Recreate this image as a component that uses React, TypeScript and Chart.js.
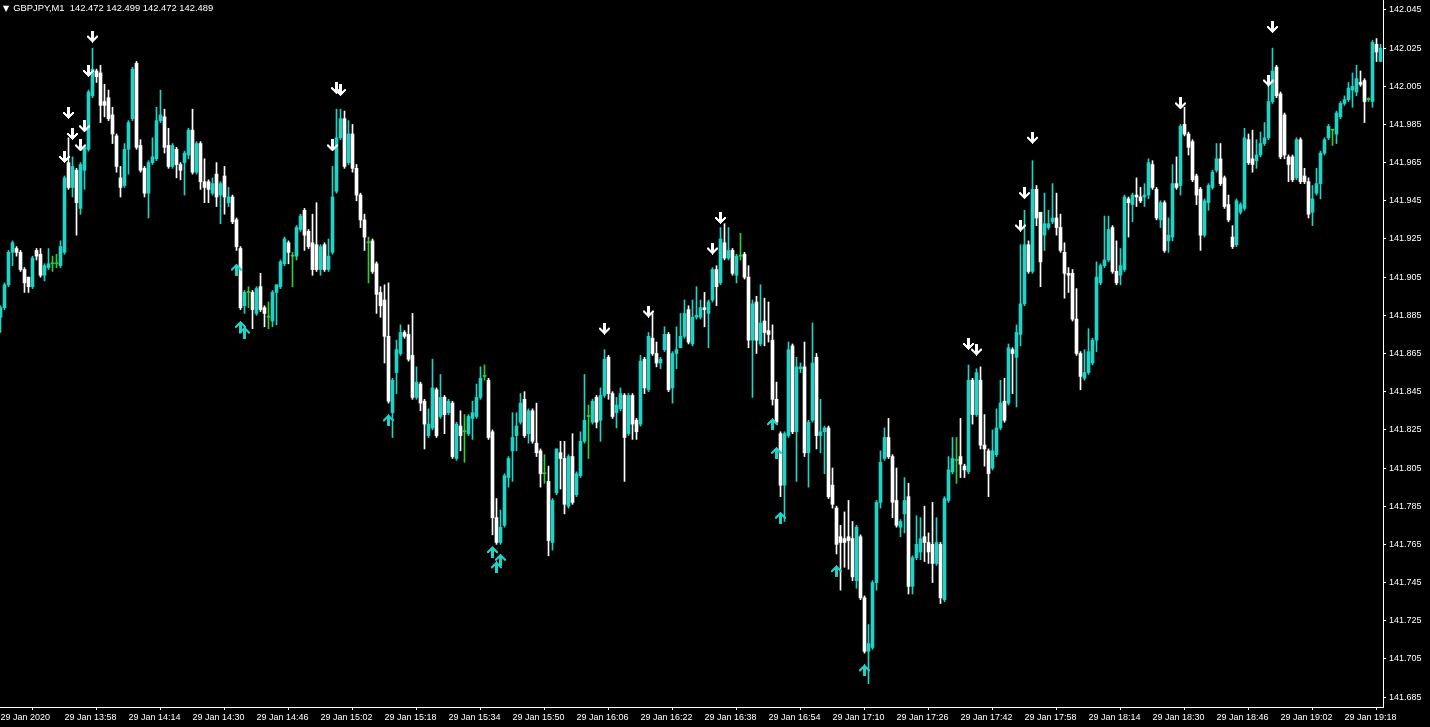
import React, { useEffect, useRef } from 'react';
import { Chart, registerables } from 'chart.js';

Chart.register(...registerables);

const headerText = 'GBPJPY,M1  142.472 142.499 142.472 142.489';

const opens = [
  141.884, 141.889, 141.901, 141.918, 141.920, 141.918, 141.909, 141.905, 141.900, 141.919,
  141.917, 141.906, 141.910, 141.912, 141.912, 141.911, 141.918, 141.965, 141.952, 141.961,
  141.941, 141.961, 141.972, 142.000, 142.013, 142.012, 141.997, 141.999, 141.990, 141.979,
  141.957, 141.953, 141.972, 141.988, 142.017, 141.974, 141.962, 141.949, 141.965, 141.967,
  141.987, 141.989, 141.974, 141.963, 141.972, 141.964, 141.965, 141.969, 141.982, 141.960,
  141.975, 141.955, 141.955, 141.949, 141.959, 141.948, 141.958, 141.944, 141.947, 141.935,
  141.920, 141.890, 141.897, 141.897, 141.886, 141.900, 141.889, 141.884, 141.882, 141.897,
  141.900, 141.912, 141.923, 141.916, 141.916, 141.930, 141.940, 141.929, 141.923, 141.922,
  141.909, 141.922, 141.909, 141.918, 141.950, 141.978, 141.988, 141.965, 141.980, 141.962,
  141.948, 141.935, 141.923, 141.924, 141.912, 141.897, 141.893, 141.874, 141.834, 141.855,
  141.865, 141.876, 141.875, 141.864, 141.842, 141.849, 141.840, 141.822, 141.826, 141.846,
  141.832, 141.842, 141.834, 141.839, 141.810, 141.827, 141.824, 141.823, 141.831, 141.832,
  141.842, 141.853, 141.851, 141.824, 141.779, 141.766, 141.775, 141.800, 141.814, 141.822,
  141.829, 141.841, 141.823, 141.835, 141.818, 141.814, 141.802, 141.798, 141.766, 141.792,
  141.813, 141.810, 141.785, 141.811, 141.791, 141.801, 141.819, 141.832, 141.829, 141.842,
  141.830, 141.843, 141.863, 141.844, 141.834, 141.836, 141.843, 141.823, 141.843, 141.830,
  141.828, 141.862, 141.846, 141.873, 141.865, 141.860, 141.867, 141.875, 141.847, 141.865,
  141.868, 141.874, 141.888, 141.870, 141.884, 141.884, 141.889, 141.886, 141.893, 141.909,
  141.902, 141.923, 141.915, 141.919, 141.906, 141.916, 141.917, 141.905, 141.872, 141.892,
  141.870, 141.882, 141.877, 141.872, 141.841, 141.823, 141.796, 141.822, 141.869, 141.824,
  141.857, 141.858, 141.813, 141.830, 141.863, 141.822, 141.824, 141.826, 141.796, 141.784,
  141.769, 141.768, 141.769, 141.768, 141.746, 141.769, 141.737, 141.709, 141.711, 141.745,
  141.787, 141.810, 141.821, 141.811, 141.788, 141.774, 141.781, 141.790, 141.743, 141.758,
  141.761, 141.769, 141.766, 141.765, 141.755, 141.765, 141.736, 141.788, 141.803, 141.809,
  141.811, 141.806, 141.803, 141.851, 141.833, 141.851, 141.817, 141.814, 141.805, 141.812,
  141.826, 141.840, 141.839, 141.867, 141.863, 141.875, 141.891, 141.922, 141.908, 141.951,
  141.939, 141.927, 141.931, 141.934, 141.936, 141.931, 141.918, 141.907, 141.907, 141.883,
  141.865, 141.852, 141.855, 141.860, 141.872, 141.902, 141.911, 141.914, 141.931, 141.908,
  141.906, 141.909, 141.946, 141.943, 141.948, 141.947, 141.947, 141.948, 141.964, 141.951,
  141.935, 141.944, 141.924, 141.926, 141.954, 141.953, 141.985, 141.980, 141.976, 141.958,
  141.951, 141.927, 141.944, 141.952, 141.961, 141.967, 141.957, 141.943, 141.926, 141.922,
  141.939, 141.941, 141.977, 141.967, 141.966, 141.969, 141.975, 141.978, 141.997, 142.015,
  142.001, 141.990, 141.968, 141.968, 141.957, 141.977, 141.958, 141.955, 141.939, 141.949,
  141.954, 141.970, 141.978, 141.982, 141.980, 141.989, 141.996, 141.998, 142.003, 142.002,
  142.007, 142.008, 141.998, 141.997, 142.027, 142.018,
];

const highs = [
  141.890, 141.902, 141.919, 141.924, 141.921, 141.919, 141.910, 141.905, 141.916, 141.920,
  141.920, 141.912, 141.920, 141.916, 141.917, 141.924, 141.958, 141.978, 141.968, 141.962,
  141.965, 141.974, 142.003, 142.025, 142.014, 142.016, 142.006, 142.003, 141.994, 141.980,
  141.963, 141.975, 141.987, 142.015, 142.018, 141.977, 141.963, 141.966, 141.978, 141.994,
  142.003, 141.993, 141.983, 141.975, 141.973, 141.965, 141.971, 141.983, 141.993, 141.976,
  141.976, 141.967, 141.956, 141.957, 141.965, 141.955, 141.963, 141.952, 141.948, 141.936,
  141.921, 141.898, 141.900, 141.898, 141.900, 141.907, 141.890, 141.892, 141.898, 141.901,
  141.914, 141.926, 141.924, 141.918, 141.932, 141.938, 141.941, 141.930, 141.938, 141.944,
  141.922, 141.923, 141.925, 141.963, 141.993, 141.993, 141.992, 141.987, 141.985, 141.964,
  141.949, 141.938, 141.926, 141.925, 141.913, 141.900, 141.901, 141.902, 141.852, 141.872,
  141.880, 141.877, 141.880, 141.886, 141.858, 141.850, 141.841, 141.836, 141.862, 141.847,
  141.854, 141.843, 141.841, 141.840, 141.829, 141.835, 141.833, 141.833, 141.840, 141.849,
  141.858, 141.859, 141.852, 141.825, 141.789, 141.783, 141.802, 141.811, 141.834, 141.834,
  141.844, 141.845, 141.836, 141.836, 141.839, 141.815, 141.812, 141.806, 141.789, 141.815,
  141.819, 141.819, 141.812, 141.823, 141.803, 141.824, 141.854, 141.838, 141.841, 141.843,
  141.847, 141.867, 141.864, 141.845, 141.842, 141.847, 141.844, 141.844, 141.844, 141.831,
  141.864, 141.863, 141.876, 141.886, 141.871, 141.863, 141.879, 141.876, 141.866, 141.879,
  141.886, 141.893, 141.890, 141.893, 141.900, 141.893, 141.897, 141.893, 141.910, 141.911,
  141.931, 141.933, 141.931, 141.920, 141.917, 141.928, 141.918, 141.911, 141.893, 141.895,
  141.901, 141.894, 141.892, 141.880, 141.850, 141.824, 141.824, 141.871, 141.870, 141.863,
  141.860, 141.871, 141.830, 141.881, 141.865, 141.841, 141.827, 141.827, 141.805, 141.785,
  141.775, 141.782, 141.788, 141.777, 141.775, 141.770, 141.738, 141.723, 141.746, 141.788,
  141.814, 141.826, 141.831, 141.812, 141.805, 141.778, 141.800, 141.797, 141.759, 141.780,
  141.779, 141.785, 141.771, 141.787, 141.779, 141.766, 141.790, 141.811, 141.821, 141.821,
  141.831, 141.807, 141.859, 141.852, 141.857, 141.858, 141.833, 141.815, 141.825, 141.836,
  141.851, 141.852, 141.870, 141.868, 141.880, 141.922, 141.940, 141.924, 141.966, 141.953,
  141.939, 141.949, 141.940, 141.954, 141.949, 141.938, 141.923, 141.910, 141.909, 141.899,
  141.866, 141.867, 141.878, 141.873, 141.913, 141.912, 141.937, 141.937, 141.932, 141.924,
  141.920, 141.948, 141.947, 141.949, 141.957, 141.952, 141.954, 141.967, 141.966, 141.952,
  141.945, 141.945, 141.936, 141.964, 141.968, 141.985, 141.994, 141.981, 141.977, 141.959,
  141.952, 141.946, 141.954, 141.961, 141.975, 141.975, 141.958, 141.948, 141.932, 141.946,
  141.944, 141.983, 141.980, 141.982, 141.977, 141.981, 141.986, 142.008, 142.025, 142.016,
  142.002, 141.991, 141.969, 141.969, 141.978, 141.978, 141.962, 141.957, 141.953, 141.962,
  141.971, 141.978, 141.985, 141.982, 141.992, 141.997, 142.000, 142.007, 142.012, 142.016,
  142.013, 142.009, 141.999, 142.029, 142.030, 142.027,
];

const lows = [
  141.876, 141.888, 141.900, 141.911, 141.916, 141.908, 141.897, 141.897, 141.899, 141.914,
  141.905, 141.903, 141.909, 141.908, 141.910, 141.910, 141.917, 141.951, 141.947, 141.927,
  141.938, 141.951, 141.971, 141.999, 142.007, 141.986, 141.989, 141.987, 141.975, 141.960,
  141.947, 141.952, 141.959, 141.987, 141.972, 141.960, 141.947, 141.936, 141.964, 141.966,
  141.986, 141.970, 141.962, 141.962, 141.957, 141.956, 141.948, 141.967, 141.959, 141.959,
  141.951, 141.944, 141.944, 141.948, 141.942, 141.933, 141.938, 141.942, 141.933, 141.919,
  141.888, 141.886, 141.889, 141.878, 141.885, 141.887, 141.879, 141.878, 141.879, 141.880,
  141.899, 141.911, 141.912, 141.900, 141.914, 141.929, 141.919, 141.920, 141.906, 141.908,
  141.906, 141.908, 141.908, 141.917, 141.949, 141.977, 141.962, 141.964, 141.960, 141.945,
  141.931, 141.919, 141.902, 141.907, 141.886, 141.884, 141.860, 141.839, 141.821, 141.844,
  141.864, 141.873, 141.861, 141.841, 141.841, 141.835, 141.815, 141.821, 141.825, 141.821,
  141.831, 141.823, 141.833, 141.810, 141.809, 141.814, 141.808, 141.822, 141.820, 141.831,
  141.841, 141.851, 141.820, 141.770, 141.765, 141.765, 141.774, 141.795, 141.798, 141.814,
  141.828, 141.821, 141.818, 141.818, 141.811, 141.795, 141.797, 141.759, 141.762, 141.791,
  141.794, 141.781, 141.784, 141.786, 141.790, 141.800, 141.818, 141.810, 141.828, 141.826,
  141.819, 141.842, 141.841, 141.831, 141.826, 141.835, 141.798, 141.822, 141.820, 141.820,
  141.827, 141.844, 141.845, 141.864, 141.858, 141.857, 141.866, 141.845, 141.839, 141.857,
  141.868, 141.873, 141.870, 141.869, 141.883, 141.883, 141.879, 141.868, 141.892, 141.890,
  141.901, 141.914, 141.914, 141.906, 141.902, 141.914, 141.904, 141.868, 141.842, 141.865,
  141.869, 141.869, 141.871, 141.838, 141.828, 141.790, 141.777, 141.821, 141.823, 141.798,
  141.855, 141.811, 141.795, 141.829, 141.815, 141.813, 141.802, 141.789, 141.784, 141.760,
  141.741, 141.753, 141.752, 141.746, 141.742, 141.736, 141.708, 141.692, 141.710, 141.741,
  141.784, 141.809, 141.810, 141.779, 141.774, 141.769, 141.771, 141.739, 141.739, 141.757,
  141.757, 141.756, 141.755, 141.745, 141.754, 141.734, 141.735, 141.787, 141.802, 141.797,
  141.800, 141.800, 141.802, 141.828, 141.832, 141.815, 141.806, 141.790, 141.804, 141.811,
  141.825, 141.829, 141.838, 141.844, 141.837, 141.869, 141.890, 141.907, 141.907, 141.932,
  141.900, 141.919, 141.930, 141.933, 141.927, 141.918, 141.894, 141.897, 141.882, 141.864,
  141.846, 141.851, 141.854, 141.859, 141.866, 141.901, 141.910, 141.913, 141.907, 141.901,
  141.901, 141.908, 141.926, 141.934, 141.942, 141.944, 141.942, 141.946, 141.951, 141.935,
  141.931, 141.918, 141.918, 141.924, 141.951, 141.948, 141.979, 141.969, 141.955, 141.943,
  141.919, 141.926, 141.940, 141.951, 141.960, 141.953, 141.941, 141.934, 141.920, 141.921,
  141.938, 141.940, 141.964, 141.960, 141.962, 141.968, 141.974, 141.977, 141.996, 141.999,
  141.967, 141.967, 141.955, 141.955, 141.956, 141.954, 141.954, 141.936, 141.932, 141.948,
  141.946, 141.969, 141.977, 141.974, 141.975, 141.988, 141.995, 141.997, 141.994, 142.000,
  142.005, 141.986, 141.997, 141.994, 142.018, 142.018,
];

const closes = [
  141.889, 141.901, 141.918, 141.923, 141.918, 141.909, 141.902, 141.900, 141.915, 141.916,
  141.906, 141.911, 141.912, 141.912, 141.912, 141.921, 141.957, 141.952, 141.963, 141.944,
  141.964, 141.973, 142.002, 142.014, 142.010, 141.995, 141.995, 141.988, 141.980, 141.963,
  141.952, 141.972, 141.986, 142.014, 141.973, 141.961, 141.949, 141.965, 141.968, 141.987,
  141.990, 141.973, 141.963, 141.974, 141.964, 141.961, 141.970, 141.982, 141.960, 141.975,
  141.955, 141.952, 141.951, 141.954, 141.947, 141.954, 141.947, 141.947, 141.934, 141.921,
  141.889, 141.897, 141.897, 141.888, 141.899, 141.888, 141.886, 141.884, 141.897, 141.901,
  141.913, 141.925, 141.918, 141.916, 141.931, 141.937, 141.927, 141.921, 141.909, 141.909,
  141.921, 141.909, 141.916, 141.947, 141.978, 141.988, 141.963, 141.980, 141.962, 141.948,
  141.935, 141.926, 141.923, 141.908, 141.896, 141.890, 141.874, 141.840, 141.851, 141.867,
  141.876, 141.874, 141.862, 141.842, 141.850, 141.839, 141.828, 141.828, 141.847, 141.822,
  141.842, 141.833, 141.840, 141.811, 141.828, 141.822, 141.824, 141.832, 141.834, 141.842,
  141.852, 141.853, 141.821, 141.779, 141.766, 141.774, 141.801, 141.810, 141.821, 141.827,
  141.839, 141.822, 141.835, 141.819, 141.813, 141.802, 141.802, 141.767, 141.788, 141.815,
  141.810, 141.786, 141.811, 141.787, 141.802, 141.819, 141.830, 141.832, 141.840, 141.829,
  141.843, 141.862, 141.844, 141.832, 141.838, 141.844, 141.821, 141.843, 141.828, 141.824,
  141.861, 141.847, 141.874, 141.865, 141.860, 141.862, 141.875, 141.846, 141.865, 141.867,
  141.874, 141.886, 141.871, 141.884, 141.885, 141.889, 141.888, 141.892, 141.909, 141.900,
  141.925, 141.915, 141.919, 141.907, 141.916, 141.916, 141.905, 141.872, 141.891, 141.872,
  141.881, 141.876, 141.875, 141.841, 141.829, 141.796, 141.823, 141.867, 141.824, 141.858,
  141.858, 141.813, 141.829, 141.860, 141.822, 141.824, 141.826, 141.790, 141.786, 141.765,
  141.766, 141.766, 141.767, 141.748, 141.774, 141.737, 141.709, 141.713, 141.745, 141.787,
  141.808, 141.821, 141.811, 141.787, 141.775, 141.777, 141.788, 141.743, 141.758, 141.765,
  141.768, 141.766, 141.761, 141.755, 141.766, 141.737, 141.789, 141.804, 141.810, 141.809,
  141.807, 141.804, 141.851, 141.833, 141.855, 141.817, 141.815, 141.802, 141.814, 141.826,
  141.839, 141.830, 141.868, 141.865, 141.876, 141.891, 141.922, 141.908, 141.951, 141.936,
  141.913, 141.933, 141.933, 141.936, 141.931, 141.919, 141.907, 141.906, 141.883, 141.865,
  141.853, 141.855, 141.866, 141.872, 141.905, 141.911, 141.914, 141.930, 141.908, 141.902,
  141.911, 141.947, 141.944, 141.948, 141.947, 141.945, 141.948, 141.965, 141.952, 141.936,
  141.944, 141.919, 141.927, 141.954, 141.952, 141.984, 141.980, 141.973, 141.956, 141.948,
  141.927, 141.945, 141.953, 141.960, 141.967, 141.954, 141.942, 141.935, 141.921, 141.945,
  141.943, 141.978, 141.965, 141.964, 141.969, 141.975, 141.978, 141.997, 142.013, 142.000,
  141.968, 141.969, 141.964, 141.956, 141.977, 141.955, 141.955, 141.938, 141.946, 141.954,
  141.970, 141.977, 141.984, 141.982, 141.991, 141.996, 141.998, 142.004, 142.005, 142.009,
  142.006, 141.997, 141.998, 142.028, 142.023, 142.025,
];

// Time axis: one bar per minute, label every 16 bars
const xTickIndex = [0, 16, 32, 48, 64, 80, 96, 112, 128, 144, 160, 176, 192, 208, 224, 240, 256, 272, 288, 304, 320, 336];
const xTickLabels = [
  '29 Jan 2020', '29 Jan 13:58', '29 Jan 14:14', '29 Jan 14:30', '29 Jan 14:46', '29 Jan 15:02',
  '29 Jan 15:18', '29 Jan 15:34', '29 Jan 15:50', '29 Jan 16:06', '29 Jan 16:22', '29 Jan 16:38',
  '29 Jan 16:54', '29 Jan 17:10', '29 Jan 17:26', '29 Jan 17:42', '29 Jan 17:58', '29 Jan 18:14',
  '29 Jan 18:30', '29 Jan 18:46', '29 Jan 19:02', '29 Jan 19:18',
];
const yTicks = [
  142.045, 142.025, 142.005, 141.985, 141.965, 141.945, 141.925, 141.905, 141.885, 141.865,
  141.845, 141.825, 141.805, 141.785, 141.765, 141.745, 141.725, 141.705, 141.685,
];
const yMin = 141.6798;
const yMax = 142.0502;

// Signal arrows (bar index, price)
const sellSignalIdx = [16, 17, 18, 20, 21, 22, 23, 83, 84, 85, 151, 162, 178, 180, 242, 244, 255, 256, 258, 295, 317, 318];
const sellSignalPrice = [
  141.968, 141.991, 141.980, 141.974, 141.984, 142.013, 142.031, 141.974, 142.004, 142.003, 141.878,
  141.887, 141.920, 141.936, 141.870, 141.867, 141.932, 141.949, 141.978, 141.996, 142.008, 142.036,
];
const buySignalIdx = [59, 60, 61, 97, 123, 124, 125, 193, 194, 195, 209, 216];
const buySignalPrice = [
  141.909, 141.879, 141.876, 141.830, 141.761, 141.753, 141.757, 141.828, 141.813, 141.779, 141.751, 141.699,
];

const BULL = '#1fd3c6';
const BEAR = '#ffffff';
const DOJI = '#32cd32';
const AXIS = '#ffffff';
const FONT = { family: 'Liberation Sans', size: 9 };

const ARROW_DOWN = [
  '....###....',
  '....###....',
  '....###....',
  '....###....',
  '....###....',
  '##..###..##',
  '###.###.###',
  '.#########.',
  '..#######..',
  '...#####...',
  '....###....',
  '.....#.....',
];

function makeArrow(rows: string[], color: string) {
  const c = document.createElement('canvas');
  c.width = rows[0].length;
  c.height = rows.length;
  const g = c.getContext('2d')!;
  g.fillStyle = color;
  rows.forEach((r, y) => {
    for (let x = 0; x < r.length; x++) if (r[x] === '#') g.fillRect(x, y, 1, 1);
  });
  return c;
}

export default function App() {
  const ref = useRef<HTMLCanvasElement | null>(null);

  useEffect(() => {
    document.body.style.margin = '0';
    document.body.style.background = '#000';
    document.documentElement.style.background = '#000';
    const canvas = ref.current;
    if (!canvas) return;

    const colors = closes.map((c, i) => (c > opens[i] ? BULL : c < opens[i] ? BEAR : DOJI));
    const downImg = makeArrow(ARROW_DOWN, '#ffffff');
    const upImg = makeArrow([...ARROW_DOWN].reverse(), BULL);

    const chart = new Chart(canvas, {
      type: 'bar',
      data: {
        datasets: [
          {
            type: 'scatter',
            data: sellSignalIdx.map((x, k) => ({ x, y: sellSignalPrice[k] })),
            pointStyle: downImg as any,
            pointRadius: 6,
            clip: false,
            order: 0,
          } as any,
          {
            type: 'scatter',
            data: buySignalIdx.map((x, k) => ({ x, y: buySignalPrice[k] })),
            pointStyle: upImg as any,
            pointRadius: 6,
            clip: false,
            order: 0,
          } as any,
          {
            type: 'bar',
            data: opens.map((o, i) => ({ x: i, y: [o, closes[i]] })),
            backgroundColor: colors,
            borderWidth: 0,
            barThickness: 3,
            grouped: false,
            minBarLength: 1,
            order: 1,
          } as any,
          {
            type: 'bar',
            data: lows.map((l, i) => ({ x: i, y: [l, highs[i]] })),
            backgroundColor: colors,
            borderWidth: 0,
            barThickness: 1,
            grouped: false,
            order: 2,
          } as any,
        ],
      },
      options: {
        animation: false,
        responsive: true,
        maintainAspectRatio: false,
        devicePixelRatio: 1,
        events: [],
        layout: { padding: 0, autoPadding: false },
        plugins: { legend: { display: false }, tooltip: { enabled: false } },
        scales: {
          x: {
            type: 'linear',
            position: 'bottom',
            min: -0.125,
            max: 345.625,
            offset: false,
            grid: { display: true, drawOnChartArea: false, drawTicks: true, tickLength: 3, color: AXIS },
            border: { display: true, color: AXIS, width: 1 },
            ticks: {
              autoSkip: false,
              maxRotation: 0,
              minRotation: 0,
              align: 'start',
              padding: 2,
              color: AXIS,
              font: FONT,
              callback: (v: any) => {
                const k = xTickIndex.indexOf(Number(v));
                return k >= 0 ? xTickLabels[k] : '';
              },
            },
            afterBuildTicks: (s: any) => {
              s.ticks = xTickIndex.map((v) => ({ value: v }));
            },
            afterFit: (s: any) => {
              s.height = 20;
              s.paddingLeft = 0;
              s.paddingRight = 0;
            },
          } as any,
          y: {
            type: 'linear',
            position: 'right',
            min: yMin,
            max: yMax,
            grid: { display: true, drawOnChartArea: false, drawTicks: true, tickLength: 3, color: AXIS },
            border: { display: true, color: AXIS, width: 1 },
            ticks: {
              padding: 3,
              color: AXIS,
              font: FONT,
              callback: (v: any) => Number(v).toFixed(3),
            },
            afterBuildTicks: (s: any) => {
              s.ticks = yTicks.map((v) => ({ value: v }));
            },
            afterFit: (s: any) => {
              s.width = 47;
              s.paddingTop = 0;
              s.paddingBottom = 0;
            },
          } as any,
        },
      } as any,
    });
    return () => chart.destroy();
  }, []);

  return (
    <div style={{ position: 'relative', width: 1430, height: 727, background: '#000', overflow: 'hidden' }}>
      <canvas ref={ref} />
      <div
        style={{
          position: 'absolute',
          left: 3,
          top: 3,
          color: '#fff',
          fontFamily: 'Liberation Sans',
          fontSize: 9.4,
          lineHeight: '9px',
          whiteSpace: 'pre',
        }}
      >
        <span style={{ fontFamily: 'DejaVu Sans', fontSize: 8, marginRight: 4 }}>▼</span>
        {headerText}
      </div>
    </div>
  );
}
